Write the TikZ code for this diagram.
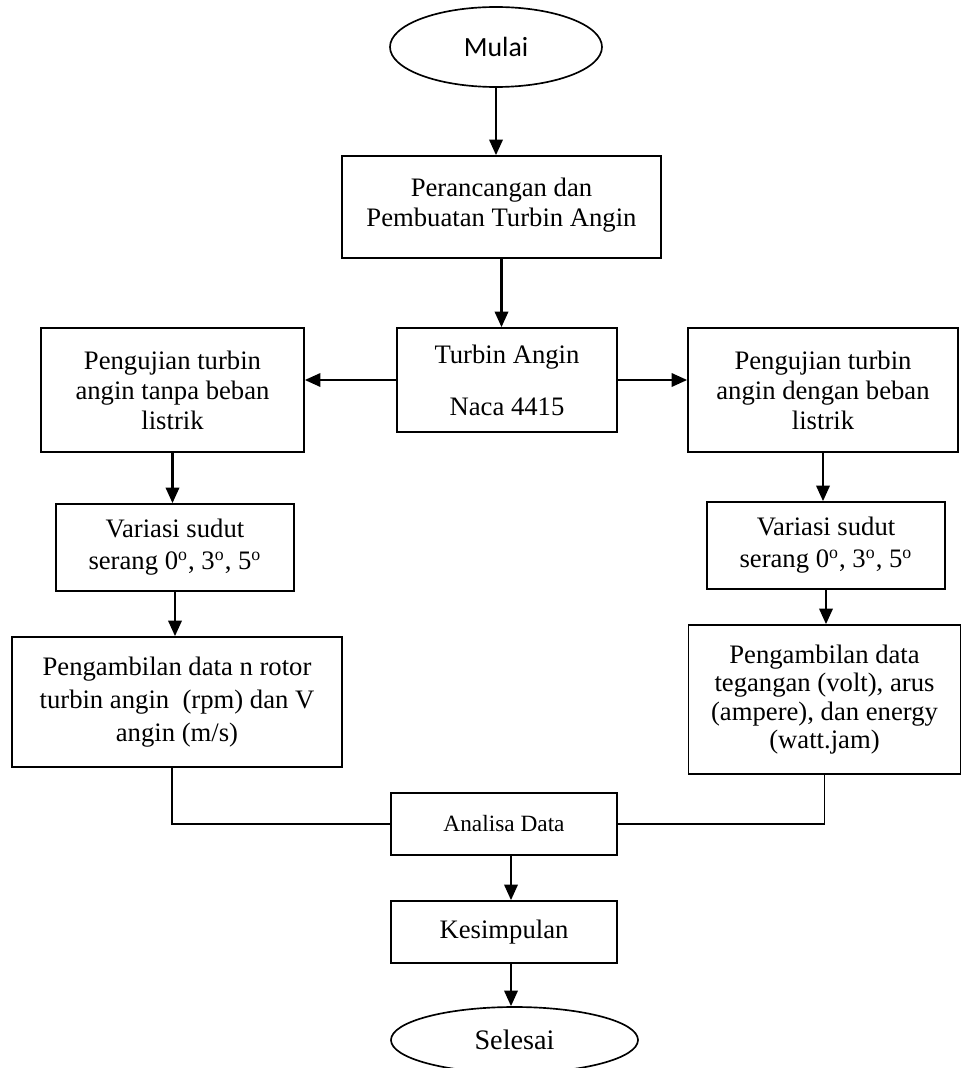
\documentclass[tikz,border=0pt]{standalone}
\usepackage{fontspec}
\setmainfont{Liberation Serif}
\newfontfamily\calibrifont{Carlito}
\usetikzlibrary{arrows.meta,calc,shapes.geometric}
\newcommand{\dg}{\textsuperscript{o}}
\begin{document}
\begin{tikzpicture}[x=0.45pt,y=-0.45pt,
  bx/.style 2 args={draw, line width=0.75pt, inner sep=0pt, minimum width=#1*0.45pt, minimum height=#2*0.45pt, align=center},
  ov/.style 2 args={ellipse, draw, line width=0.75pt, inner sep=0pt, minimum width=#1*0.45pt, minimum height=#2*0.45pt},
  arr/.style={line width=1.1pt, -{Triangle[length=7pt,width=6pt]}},
  ln/.style={line width=0.75pt},
  fs/.style={font=\fontsize{12}{#1}\selectfont}]
\useasboundingbox (0,0) rectangle (962,1068);
% nodes
\node[ov={212}{80}, font=\calibrifont\fontsize{12.5}{15}\selectfont] (mulai) at (496,47) {Mulai};
\node[bx={319}{102}, fs=13.5pt] (peran) at (501.5,207) {Perancangan dan\\Pembuatan Turbin Angin\\[-9pt]\mbox{}};
\node[bx={220}{104}, fs=13.5pt] (turbin) at (507,380) {Turbin Angin\\[10pt]Naca 4415};
\node[bx={263}{124}, fs=13.5pt] (tanpa) at (172.5,390) {Pengujian turbin\\angin tanpa beban\\listrik};
\node[bx={270}{124}, fs=13.5pt] (dengan) at (823,390) {Pengujian turbin\\angin dengan beban\\listrik};
\node[bx={238}{87}, fs=14.4pt] (var1) at (175,547.5) {Variasi sudut\\serang 0\dg, 3\dg, 5\dg};
\node[bx={238}{87}, fs=14.4pt] (var2) at (826,545.5) {Variasi sudut\\serang 0\dg, 3\dg, 5\dg};
\node[bx={330}{130}, fs=15pt] (amb1) at (177,702) {Pengambilan data n rotor\\turbin angin \ (rpm) dan V\\angin (m/s)};
\node[bx={272}{149}, fs=12.8pt] (amb2) at (824.5,699.5) {Pengambilan data\\tegangan (volt), arus\\(ampere), dan energy\\(watt.jam)};
\node[bx={226}{62}, font=\fontsize{10.5}{12}\selectfont] (analisa) at (504,824) {Analisa Data};
\node[bx={226}{62}, fs=13.5pt] (kesimp) at (504,932) {Kesimpulan};
\node[ov={247}{66}, font=\fontsize{12.7}{15}\selectfont] (selesai) at (514.5,1040) {Selesai};
\coordinate (a1) at ($(analisa.south)+(7,0)$);
\coordinate (k1) at ($(kesimp.north)+(7,0)$);
\coordinate (k2) at ($(kesimp.south)+(7,0)$);
% connectors
\draw[arr] (mulai.south) -- (mulai.south |- peran.north);
\draw[arr] (peran.south) -- (peran.south |- turbin.north);
\draw[arr] (turbin.west) -- (turbin.west -| tanpa.east);
\draw[arr] (turbin.east) -- (turbin.east -| dengan.west);
\draw[arr] (tanpa.south) -- (tanpa.south |- var1.north);
\draw[arr] (var1.south) -- (var1.south |- amb1.north);
\draw[arr] (dengan.south) -- (dengan.south |- var2.north);
\draw[arr] (var2.south) -- (var2.south |- amb2.north);
\draw[ln] ($(amb1.south)+(-5,0)$) |- (analisa.west);
\draw[ln] (amb2.south) |- (analisa.east);
\draw[arr] (a1) -- (k1);
\draw[arr] (k2) -- (k2 |- selesai.north);
\end{tikzpicture}
\end{document}
